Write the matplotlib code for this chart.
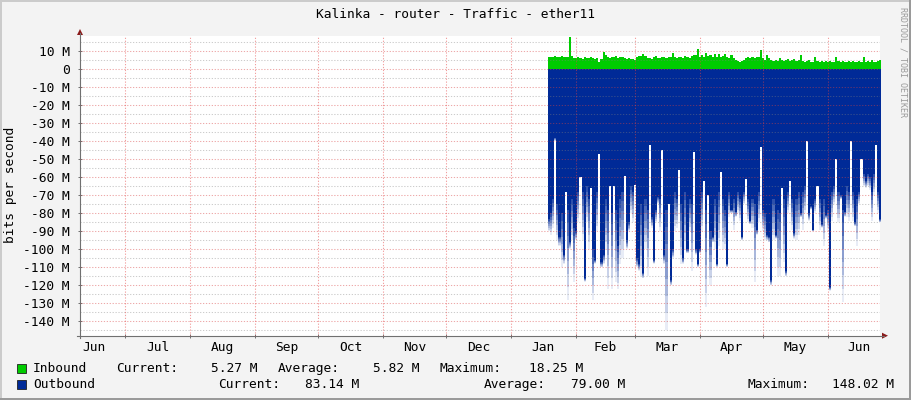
import numpy as np
import matplotlib.pyplot as plt
from matplotlib.patches import Rectangle, Polygon
from matplotlib.lines import Line2D
from matplotlib.colors import to_rgb

# daily values, first day is Jan 19 (day 0 = Jul 1 of previous year)
first_day = 201.7
inbound = [6.8, 7.2, 6.9, 7.4, 7.0, 7.2, 7.3, 6.9, 7.1, 7.0,
           18.25,
           7.5, 6.5, 6.3, 7.0, 6.4, 6.0, 6.8, 6.2, 6.6, 6.9, 6.3, 5.8, 6.1,
           4.4, 6.0, 9.6, 7.8,
           7.0, 6.6, 7.2, 6.8, 7.5, 6.4, 6.9, 7.1, 6.5, 5.9, 6.2, 5.8,
           6.0, 5.3, 6.8, 7.3, 7.6, 8.5, 7.7, 6.4,
           6.6, 6.0, 6.9, 7.4, 6.3, 6.1, 6.7, 7.0, 6.5, 6.8, 7.2,
           9.2, 7.0,
           6.4, 6.8, 7.1, 6.6, 7.3, 6.9, 6.2, 7.5, 7.8, 8.2,
           11.4,
           7.2, 8.3, 6.8, 9.1, 7.5, 8.0, 7.2, 8.6, 7.0, 8.4, 6.9, 7.7, 8.8, 7.1, 6.6, 8.2, 6.5,
           5.2, 4.6, 4.3, 4.8, 5.4,
           6.2, 6.8, 6.5, 7.0, 6.4, 6.9, 7.2,
           10.7, 6.6, 5.5, 8.3, 6.1,
           5.0, 4.8, 5.5, 4.6, 6.2, 5.1, 4.9, 5.3, 6.0, 4.7, 5.2, 5.8, 4.9, 5.0,
           8.2,
           4.5, 4.2, 4.6, 5.0, 4.3, 4.4, 7.0, 4.8, 4.1, 4.5,
           4.3, 4.9, 4.2, 4.6, 4.4, 4.0, 6.8, 4.7, 4.2, 4.5,
           4.3, 4.1, 4.6, 4.4, 4.8, 4.2, 4.0, 4.5, 4.3, 6.9,
           4.2, 4.6, 4.1, 5.0, 4.4, 4.3, 4.7, 5.27]

outbound_avg = [83, 80, 72, 38, 75, 93, 80, 103, 68, 78,
                96, 72, 88, 90, 68, 60, 68, 116, 65, 72,
                66, 100, 106, 68, 47, 107, 103, 72, 78, 65,
                80, 65, 78, 98, 72, 68, 59, 95, 85, 65,
                68, 64, 105, 108, 75, 113, 72, 78, 42, 82,
                106, 78, 71, 72, 45, 103, 78, 75, 117, 100,
                68, 72, 56, 75, 105, 68, 100, 72, 75, 46,
                100, 108, 100, 68, 62, 78, 70, 90, 93, 72,
                108, 68, 57, 72, 78, 108, 68, 78, 72, 79,
                68, 72, 93, 68, 61, 72, 84, 72, 75, 89,
                68, 43, 78, 80, 92, 93, 117, 72, 92, 78,
                80, 66, 72, 112, 68, 62, 72, 91, 72, 68,
                80, 68, 65, 40, 80, 76, 89, 72, 65, 72,
                86, 72, 81, 78, 121, 68, 65, 50, 68, 70,
                78, 79, 65, 68, 40, 68, 85, 72, 68, 50,
                58, 62, 58, 60, 68, 58, 42, 68, 83.14]

outbound_max = [90, 92, 88, 40, 95, 98, 110, 108, 68, 128,
                100, 95, 118, 95, 85, 60, 95, 118, 85, 100,
                66, 128, 108, 90, 47, 110, 108, 100, 122, 65,
                122, 65, 118, 122, 108, 105, 59, 100, 90, 80,
                85, 64, 110, 112, 115, 116, 100, 115, 42, 88,
                108, 85, 75, 90, 45, 108, 145, 75, 120, 105,
                90, 88, 56, 108, 108, 100, 102, 90, 112, 46,
                103, 110, 102, 90, 62, 132, 70, 120, 96, 100,
                110, 98, 57, 100, 100, 110, 82, 80, 89, 82,
                80, 84, 95, 75, 61, 85, 86, 88, 118, 92,
                85, 43, 90, 95, 95, 96, 120, 95, 94, 115,
                115, 66, 107, 115, 80, 62, 89, 94, 95, 92,
                82, 89, 80, 40, 84, 78, 90, 80, 65, 89,
                88, 98, 83, 90, 123, 84, 75, 50, 85, 72,
                129, 82, 82, 84, 40, 84, 87, 98, 75, 50,
                65, 66, 65, 67, 84, 70, 42, 80, 85]

month_starts = [0, 31, 62, 92, 123, 153, 184, 215, 243, 274, 304, 335]
month_mid = [-15, 15.5, 46.5, 77, 107.5, 138, 168.5, 199.5, 229, 258.5, 289, 319.5, 350]
month_names = ["Jun", "Jul", "Aug", "Sep", "Oct", "Nov", "Dec",
               "Jan", "Feb", "Mar", "Apr", "May", "Jun"]
y_ticks = list(range(-140, 11, 10))

legend_rows = [
    [("Inbound", 34), ("Current:", 117), ("5.27 M", 212), ("Average:", 279),
     ("5.82 M", 374), ("Maximum:", 441), ("18.25 M", 530)],
    [("Outbound", 34), ("Current:", 219), ("83.14 M", 306), ("Average:", 485),
     ("79.00 M", 572), ("Maximum:", 749)],
]

green = "#00CC00"
blue = "#002A97"
W, H = 911, 400


def P(x, y):
    return (x / W, 1 - y / H)


plt.rcParams['font.family'] = ['DejaVu Sans Mono']
fs = 9.3

fig = plt.figure(figsize=(W / 100, H / 100), dpi=100, facecolor="#F3F3F3")
ax = fig.add_axes([80 / W, 1 - 335.7 / H, 800 / W, 299.7 / H])
ax.set_facecolor("white")
ax.set_xlim(-21.46, 360.0)
ax.set_ylim(-147.9, 18.6)
for s in ax.spines.values():
    s.set_visible(False)

def steps(vals, start):
    v = np.asarray(vals, dtype=float)
    x = start + np.arange(len(v) + 1)
    return x, np.append(v, v[-1])

xi, yi = steps(inbound, first_day)
ax.fill_between(xi, 0, yi, step='post', color=green, lw=0, zorder=2)

xa, ya = steps(outbound_avg, first_day)
xm, ym = steps(outbound_max, first_day)
n = min(len(ya), len(ym))
xa, ya, ym = xa[:n], ya[:n], ym[:n]
ym = np.maximum(ym, ya)
ax.fill_between(xa, 0, -ya, step='post', color=blue, lw=0, zorder=2)
# fading tail from the average down to the peak
dark = np.array(to_rgb(blue))
layers = 7
for k in range(layers):
    t0, t1 = k / layers, (k + 1) / layers
    c = dark + (1 - dark) * (0.12 + 0.85 * (k + 0.5) / layers)
    ax.fill_between(xa, -(ya + (ym - ya) * t0), -(ya + (ym - ya) * t1),
                    step='post', color=c, lw=0, zorder=2)

# grid on top of the data
for v in range(-145, 20, 5):
    if v % 10 == 0:
        ax.axhline(v, color=(0.85, 0.25, 0.25, 0.45), lw=0.75, ls=(0, (1.2, 1.6)), zorder=4)
    else:
        ax.axhline(v, color=(0.5, 0.5, 0.5, 0.4), lw=0.75, ls=(0, (1.2, 1.6)), zorder=4)
for d in month_starts:
    ax.axvline(d, color=(0.9, 0.25, 0.25, 0.5), lw=0.75, ls=(0, (1.2, 1.6)), zorder=4)

ax.set_yticks(y_ticks)
ax.set_yticklabels([("%d M" % v) if v != 0 else "0" for v in y_ticks], fontsize=fs)
ax.tick_params(axis='y', direction='inout', length=3, width=0.7, color="#707070", pad=6)
ax.set_xticks(month_starts)
ax.set_xticklabels([])
ax.set_xticks(month_mid, minor=True)
ax.set_xticklabels(month_names, minor=True, fontsize=fs)
ax.tick_params(axis='x', which='major', direction='inout', length=3, width=0.7, color="#707070")
ax.tick_params(axis='x', which='minor', length=0, pad=4)

# axis lines and arrows
fig.add_artist(Line2D(*zip(P(80, 338), P(80, 33)), color="#707070", lw=0.8))
fig.add_artist(Line2D(*zip(P(77, 335.7), P(884, 335.7)), color="#707070", lw=0.8))
fig.add_artist(Polygon([P(77, 35), P(83, 35), P(80, 29)], closed=True,
                       transform=fig.transFigure, color="#8B1A1A", lw=0))
fig.add_artist(Polygon([P(882, 332.7), P(882, 338.7), P(888, 335.7)], closed=True,
                       transform=fig.transFigure, color="#8B1A1A", lw=0))

fig.text(*P(455, 15), "Kalinka - router - Traffic - ether11", ha='center', va='center', fontsize=fs)
fig.text(*P(11, 185), "bits per second", rotation=90, ha='center', va='center', fontsize=fs)
fig.text(*P(903, 62), "RRDTOOL / TOBI OETIKER", rotation=270, ha='center', va='center',
         fontsize=6, color="#9A9A9A")

# legend
for row, (y, col) in enumerate([(368.5, green), (384.5, blue)]):
    fig.add_artist(Rectangle(P(17, y + 4.5), 9 / W, 9 / H, transform=fig.transFigure,
                             facecolor=col, edgecolor="#202020", lw=0.6))
    for txt, x in legend_rows[row]:
        fig.text(*P(x - 1, y), txt, ha='left', va='center', fontsize=fs)
fig.text(*P(894, 384.5), "148.02 M", ha='right', va='center', fontsize=fs)

# 3d frame
fig.add_artist(Rectangle((0, 0), 2 / W, 1, transform=fig.transFigure, color="#CBCBCB", lw=0))
fig.add_artist(Rectangle((0, 1 - 2 / H), 1, 2 / H, transform=fig.transFigure, color="#CBCBCB", lw=0))
fig.add_artist(Rectangle((1 - 2 / W, 0), 2 / W, 1, transform=fig.transFigure, color="#9A9A9A", lw=0))
fig.add_artist(Rectangle((0, 0), 1, 2 / H, transform=fig.transFigure, color="#9A9A9A", lw=0))

fig.savefig("out.png", dpi=100, facecolor=fig.get_facecolor())
